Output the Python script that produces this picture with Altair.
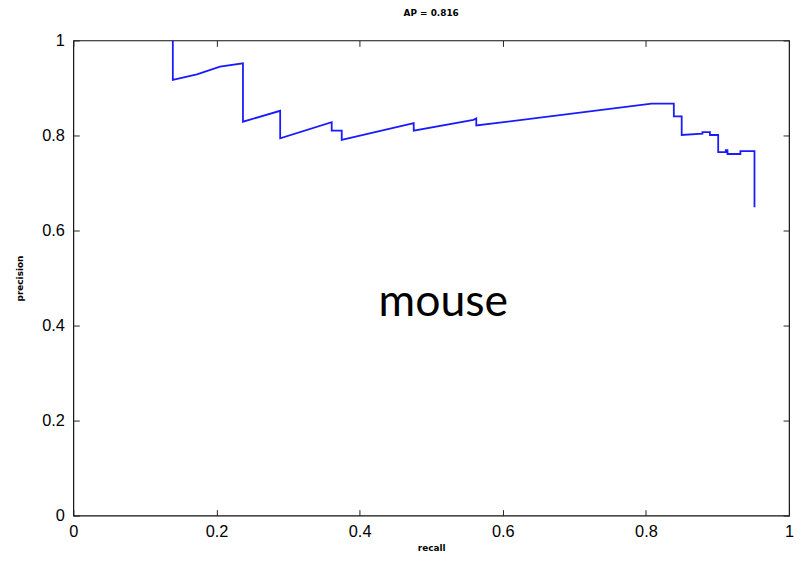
import altair as alt
import pandas as pd

# PR curve (recall, precision)
recall = [0.139, 0.139, 0.1727, 0.205, 0.237, 0.237, 0.289, 0.289, 0.361, 0.361,
          0.375, 0.375, 0.4756, 0.4756, 0.559, 0.563, 0.563, 0.808, 0.839, 0.839,
          0.850, 0.850, 0.879, 0.879, 0.8895, 0.8895, 0.901, 0.901, 0.9116, 0.9116,
          0.914, 0.914, 0.932, 0.932, 0.9517, 0.9517]
precision = [1.0, 0.917, 0.9285, 0.945, 0.952, 0.829, 0.852, 0.794, 0.828, 0.810,
             0.810, 0.791, 0.826, 0.810, 0.833, 0.836, 0.821, 0.867, 0.867, 0.840,
             0.840, 0.801, 0.804, 0.807, 0.807, 0.801, 0.801, 0.765, 0.765, 0.769,
             0.769, 0.761, 0.761, 0.767, 0.767, 0.649]

x_ticks = [0, 0.2, 0.4, 0.6, 0.8, 1]
y_ticks = [0, 0.2, 0.4, 0.6, 0.8, 1]

title_text = "AP = 0.816"
x_title = "recall"
y_title = "precision"

note_text = ["mouse"]
note_x = [0.517]
note_y = [0.449]

df = pd.DataFrame({"recall": recall, "precision": precision,
                   "order": list(range(len(recall)))})
notes = pd.DataFrame({"t": note_text, "x": note_x, "y": note_y})

FONT = "Liberation Sans"
TFONT = "DejaVu Sans"
xscale = alt.Scale(domain=[0, 1], nice=False, zero=False)
yscale = alt.Scale(domain=[0, 1], nice=False, zero=False)

common = dict(domain=False, grid=False, tickSize=6, offset=-6, tickColor="#222",
              tickWidth=1, labelFont=FONT, labelFontSize=16.5, labelColor="black",
              labelFlush=False, format="~g", titleFont=TFONT, titleFontSize=9,
              titleFontWeight="bold", titleColor="black")

x_bottom = alt.Axis(orient="bottom", values=x_ticks, labelPadding=8, title=x_title,
                    titlePadding=4, **common)
y_left = alt.Axis(orient="left", values=y_ticks, labelPadding=9, title=y_title,
                  titlePadding=17, **common)
x_top = alt.Axis(orient="top", values=x_ticks, labels=False, title=None, **common)
y_right = alt.Axis(orient="right", values=y_ticks, labels=False, title=None, **common)

line = alt.Chart(df).mark_line(color="#1a1aff", strokeWidth=1.8).encode(
    x=alt.X("recall:Q", scale=xscale, axis=x_bottom),
    y=alt.Y("precision:Q", scale=yscale, axis=y_left),
    order="order:Q",
)

ghost = alt.Chart(df).mark_point(opacity=0).encode(
    x=alt.X("recall:Q", scale=xscale, axis=x_top),
    y=alt.Y("precision:Q", scale=yscale, axis=y_right),
)

note = alt.Chart(notes).mark_text(font="Lato", fontSize=45, color="black").encode(
    x=alt.X("x:Q", scale=xscale, axis=None),
    y=alt.Y("y:Q", scale=yscale, axis=None),
    text="t:N",
)

chart = alt.layer(ghost, line, note).properties(
    width=723, height=480,
    title=alt.TitleParams(title_text, font=TFONT, fontSize=9, fontWeight="bold",
                          color="black", offset=15),
    autosize=alt.AutoSizeParams(type="none"),
    padding={"left": 66, "top": 30, "right": 5, "bottom": 36},
).configure_view(stroke="#111", strokeWidth=1.2)

chart.save("out.html", embed_options={"renderer": "svg", "actions": False})
